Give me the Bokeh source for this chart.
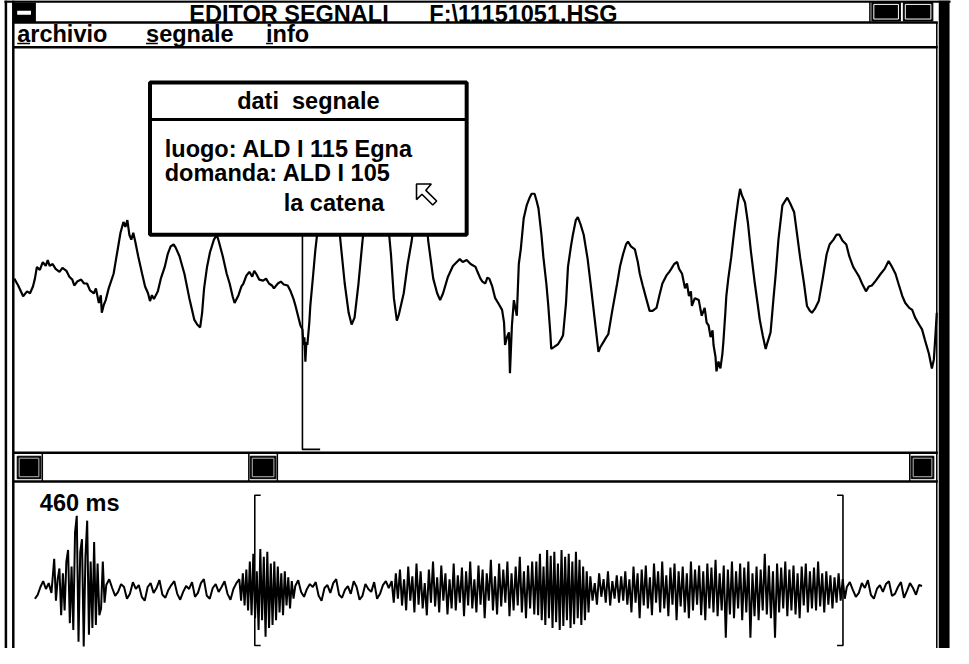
import numpy as np
from bokeh.plotting import figure
from bokeh.models import Range1d
from bokeh.core.properties import value
from bokeh.embed import file_html
from bokeh.resources import INLINE

# ------------------------------------------------------------------ data
window_title = "EDITOR SEGNALI"
file_name = "F:\\11151051.HSG"
menu_items = ["archivio", "segnale", "info"]
dialog_title = "dati\u00a0 segnale"
dialog_lines = ["luogo: ALD I 115 Egna", "domanda: ALD I 105", "la catena"]
duration_label = "460 ms"
total_ms = 460
selection_ms = [114, 419]
cursor_sample = [293]

# upper (zoomed) trace: sample index and amplitude
upper_t = [0, 4, 9, 13, 16, 19, 21, 23, 26, 29, 32, 34, 36, 39, 42, 46, 49, 53, 56, 59,
           61, 64, 68, 71, 74, 77, 81, 83, 86, 88, 89, 91, 93, 96, 101, 104, 106, 108, 111, 113,
           115, 117, 119, 121, 123, 126, 130, 133, 136, 138, 140, 142, 146, 149, 153, 156, 159, 162, 164, 168,
           173, 178, 183, 186, 189, 191, 193, 196, 199, 203, 206, 208, 212, 216, 219, 222, 224, 228, 231, 233,
           236, 239, 242, 244, 246, 249, 253, 256, 259, 262, 264, 268, 271, 274, 278, 281, 284, 286, 289, 291,
           293, 294, 295, 296, 297, 298, 300, 301, 304, 306, 309, 312, 316, 321, 326, 331, 336, 340, 343, 346,
           350, 354, 358, 364, 371, 378, 383, 386, 389, 391, 396, 400, 404, 408, 414, 419, 421, 426, 430, 433,
           436, 441, 446, 450, 453, 456, 460, 464, 469, 471, 474, 476, 479, 481, 483, 486, 489, 492, 496, 498,
           499, 501, 503, 504, 506, 508, 510, 511, 513, 515, 518, 521, 524, 526, 529, 531, 533, 536, 538, 541,
           543, 545, 546, 549, 553, 556, 558, 561, 563, 566, 568, 571, 573, 576, 579, 583, 586, 590, 594, 596,
           599, 602, 604, 608, 613, 616, 619, 622, 624, 627, 631, 634, 636, 639, 643, 646, 649, 653, 656, 659,
           663, 666, 668, 671, 674, 676, 679, 682, 684, 686, 688, 689, 692, 696, 698, 699, 702, 704, 706, 708,
           710, 711, 713, 714, 716, 718, 720, 721, 723, 724, 726, 729, 731, 733, 736, 738, 740, 743, 746, 749,
           753, 756, 758, 761, 764, 766, 769, 772, 774, 777, 781, 784, 786, 789, 793, 796, 799, 803, 806, 809,
           811, 814, 818, 822, 826, 829, 833, 836, 839, 842, 846, 849, 853, 856, 859, 862, 866, 869, 872, 876,
           881, 885, 889, 892, 896, 899, 903, 906, 910, 913, 916, 920, 923, 926, 930, 933, 935, 936, 938]
upper_amp = [5, -2, -13, -8, -10, -3, 5, 17, 14, 22, 18, 24, 18, 20, 15, 12, 16, 13, 7, 4,
             -2, 2, 4, 0, 0, -7, -10, -5, -20, -12, -30, -22, -17, -5, 10, 28, 40, 52, 63, 58,
             65, 50, 45, 52, 43, 28, 10, -3, -10, -18, -12, -16, -8, 5, 17, 30, 38, 40, 37, 28,
             10, -15, -37, -42, -45, -30, -5, 17, 32, 45, 50, 43, 28, 10, 0, -13, -20, -12, -3, 0,
             8, 12, 7, 13, 10, 4, 3, 5, 0, -2, -5, 0, 2, -1, -2, -8, -16, -23, -35, -43,
             -47, -63, -55, -80, -60, -63, -40, -23, 10, 33, 60, 85, 100, 105, 95, 50, 0, -30, -42, -35,
             0, 43, 80, 100, 105, 85, 30, -15, -38, -32, -10, 20, 43, 75, 95, 65, 43, 5, -10, -17,
             -10, 7, 18, 22, 25, 22, 24, 20, 17, 12, 5, 2, 0, 6, 5, -3, -15, -20, -27, -40,
             -63, -55, -50, -92, -43, -17, -28, -33, 20, 35, 67, 80, 88, 92, 92, 85, 77, 50, 27, 0,
             -23, -50, -67, -65, -62, -57, -53, -20, 17, 38, 50, 65, 68, 60, 50, 25, 0, -35, -70, -65,
             -60, -55, -52, -28, 0, 18, 30, 40, 43, 38, 35, 22, 10, -2, -17, -28, -28, -25, -12, 0,
             8, 12, 15, 20, 22, 15, 10, -5, 0, -13, -8, -23, -15, -17, -28, -33, -25, -40, -43, -55,
             -48, -63, -75, -90, -80, -87, -72, -60, -30, -13, 5, 27, 45, 62, 85, 97, 90, 83, 62, 33,
             0, -22, -37, -53, -67, -60, -50, -15, 7, 45, 80, 85, 88, 82, 73, 50, 27, 0, -23, -28,
             -30, -26, -18, 5, 30, 40, 45, 50, 50, 44, 40, 28, 17, 12, 7, 0, -8, -3, -2, 3,
             10, 15, 23, 18, 10, 0, -13, -20, -25, -27, -35, -42, -47, -58, -72, -87, -78, -63, -30]

# lower (overview) trace: segment boundaries in ms and amplitude samples per segment
lower_bounds_ms = [0, 10, 37, 106, 135, 185, 260, 288, 304, 421, 460]
lower_quiet_start = [-8, -4, 4, 10, 2, 8, -2]
lower_burst_1 = [33, -10, 12, 23, -25, 18, -20, 30, 42, -33, 25, -40, 60, 77, -52,
                 40, 53, -57, 35, 72, -45, 30, -38, 50, -35, 28, -25, -18, 30, -12]
lower_quiet_1 = [6, 12, 3, -5, -1, 7, 4, -8, -3, 9, 2, 6, -6, -10, 4, 8, -2, 3, 11, -4, -7, 1,
                 6, 10, -3, -9, -1, 5, 2, 9, -6, -2, 8, 12, -5, -8, 3, 7, -1, 4, 10, -3, -9, 2, 8]
lower_burst_2 = [12, -10, 18, -15, 22, -20, 30, -25, 38, -28, 20, -40, 43, -30, 35, -47,
                 40, -38, 28, -35, 30, -30, 25, -22, 18, -25, 20, -15, 14, -18, 10, -8]
lower_quiet_2 = [5, 11, -1, -6, 2, 7, 4, 9, -5, -10, 3, 6, -2, 8, 12, -4, -7, 1, 5, -3, 10, 4,
                 -9, -5, 7, 2, -1, 9, -8, -3, 6, 10, 3]
lower_medium_1 = [10, -12, 18, -8, 22, -15, 12, -20, 25, -10, 15, -22, 28, -14, 20, -18, 8, -25,
                  22, -12, 30, -16, 14, -22, 26, -10, 18, -24, 12, -18, 28, -20, 16, -12, 24, -26,
                  20, -15, 30, -18, 12, -22, 26, -14, 22, -28, 18, -10, 32, -20, 15, -24, 28, -16,
                  22, -12, 30, -26, 18, -20, 25, -15, 35, -22, 20, -28, 26, -18, 30, -24]
lower_burst_3 = [30, -25, 38, -30, 25, -35, 42, -28, 36, -38, 40, -32, 28, -40, 42, -36, 35, -30,
                 38, -38, 30, -34, 40, -28, 32, -35, 25, -30, 20, -22]
lower_medium_2 = [15, -10, 8, -14, 18, -6, 12, -12, 20, -15, 10, -8, 16, -12]
lower_medium_3 = [15, -10, 20, -14, 12, -22, 25, -12, 18, -28,
                  22, -15, 26, -18, 14, -25, 28, -12, 20, -22,
                  30, -18, 16, -26, 24, -14, 28, -30, 20, -16,
                  25, -22, 18, -28, 30, -20, 22, -14, 26, -25,
                  20, -30, 28, -18, 24, -22, 32, -26, 18, -20,
                  26, -48, 22, -24, 30, -28, 20, -18, 28, -30,
                  24, -22, 30, -48, 18, -26, 25, -30, 22, -20,
                  38, -24, 26, -28, 20, -48, 28, -22, 24, -18,
                  30, -26, 22, -20, 26, -24, 18, -28, 25, -15,
                  28, -22, 20, -18, 24, -20, 30, -16, 18, -22,
                  20, -14, 16, -18, 14, -12, 18, -10, 12, -8]
lower_quiet_end = [4, 9, 1, -6, -2, 8, 3, 11, -4, -8, 2, 6, -1, 7, 10, -5, -3, 4, 9, -7, 0, 8,
                   3, -4, 6, 5]
lower_segments = [lower_quiet_start, lower_burst_1, lower_quiet_1, lower_burst_2, lower_quiet_2,
                  lower_medium_1, lower_burst_3, lower_medium_2, lower_medium_3, lower_quiet_end]

# ------------------------------------------------------------------ figure
W, H = 969, 664
FONT = value("Liberation Sans")
FS = "23.5px"
TXT = dict(text_font=FONT, text_font_size=FS, text_font_style="bold", text_color="black",
           text_baseline="alphabetic")
DY = -7  # baseline correction for svg text

p = figure(width=953, height=648, x_range=Range1d(0, W), y_range=Range1d(H, 0),
           output_backend="svg", toolbar_location=None,
           x_axis_location=None, y_axis_location=None)
p.min_border_left = p.min_border_right = p.min_border_top = p.min_border_bottom = 0
p.grid.visible = False
p.outline_line_color = None
p.background_fill_color = "white"
p.border_fill_color = "white"

UP_X0, UP_Y0 = 14, 290
LO_X0, LO_X1, LO_Y0 = 35, 937, 605
px_per_ms = (LO_X1 - LO_X0) / total_ms
p.extra_x_ranges = {"up_t": Range1d(-UP_X0, W - UP_X0),
                    "lo_t": Range1d(-LO_X0 / px_per_ms, (W - LO_X0) / px_per_ms)}
p.extra_y_ranges = {"up_a": Range1d(UP_Y0 - H, UP_Y0),
                    "lo_a": Range1d(LO_Y0 - H, LO_Y0)}

# ------------------------------------------------------------------ traces
p.line(upper_t, upper_amp, x_range_name="up_t", y_range_name="up_a",
       line_color="black", line_width=2.2)
c = cursor_sample[0]
p.line([c, c, c + 18], [60, -170, -170], x_range_name="up_t", y_range_name="up_a",
       line_color="black", line_width=1.6)

lower_ms, lower_amp = [], []
nseg = len(lower_segments)
for i, seg in enumerate(lower_segments):
    last = i == nseg - 1
    lower_ms.extend(np.linspace(lower_bounds_ms[i], lower_bounds_ms[i + 1], len(seg),
                                endpoint=last).tolist())
    lower_amp.extend(seg)
p.line(lower_ms, lower_amp, x_range_name="lo_t", y_range_name="lo_a",
       line_color="black", line_width=2.0)

tick = 6 / px_per_ms
bx = [[selection_ms[0] + tick, selection_ms[0], selection_ms[0], selection_ms[0] + tick],
      [selection_ms[1] - tick, selection_ms[1], selection_ms[1], selection_ms[1] - tick]]
by = [[98, 98, -56, -56], [98, 98, -56, -56]]
p.multi_line(bx, by, x_range_name="lo_t", y_range_name="lo_a", line_color="black", line_width=1.6)

# ------------------------------------------------------------------ dialog
p.quad(left=[152], right=[474], top=[84], bottom=[240], fill_color="white",
       line_color="black", line_width=4)
p.line([152, 474], [122, 122], line_color="black", line_width=3)
p.text(x=[313], y=[110 + DY], text=[dialog_title], text_align="center", **TXT)
p.text(x=[167, 167, 288], y=[159 + DY, 184 + DY, 214 + DY], text=dialog_lines,
       text_align="left", **TXT)
p.patch([423, 423, 428.5, 439.5, 443.5, 432.5, 438],
        [188, 204, 198.5, 209.5, 205.5, 194.5, 188],
        fill_color="white", line_color="black", line_width=1.6)

# ------------------------------------------------------------------ window chrome
p.text(x=[192, 436], y=[21 + DY, 21 + DY], text=[window_title, file_name], text_align="left", **TXT)
p.quad(left=[13], right=[36], top=[2], bottom=[22], fill_color="black", line_color=None)
p.quad(left=[17], right=[31], top=[10.5], bottom=[14.5], fill_color="white", line_color=None)
p.quad(left=[886, 918], right=[915, 948], top=[2, 2], bottom=[21, 21],
       fill_color="black", line_color="black", line_width=1)
p.quad(left=[888, 920], right=[913, 946], top=[4, 4], bottom=[19, 19],
       fill_color=None, line_color="white", line_width=1)
p.line([884, 884], [1, 22], line_color="black", line_width=1.5)

p.text(x=[17, 148, 270], y=[41 + DY, 41 + DY, 41 + DY], text=menu_items, text_align="left", **TXT)
p.multi_line([[17, 30], [148, 160], [270, 277]], [[44, 44], [44, 44], [44, 44]],
             line_color="black", line_width=1.5)

hx = [[4, 966], [13, 953], [13, 953], [13, 953], [13, 953]]
hy = [[1, 1], [22.5, 22.5], [48, 48], [463.5, 463.5], [493, 493]]
p.multi_line(hx, hy, line_color="black", line_width=2.5)
p.multi_line([[5.5, 5.5], [13, 13]], [[0, H], [0, H]], line_color="black", line_width=2.5)
p.line([952, 952], [22, H], line_color="black", line_width=1.5)
p.quad(left=[954], right=[965], top=[0], bottom=[H], fill_color="black", line_color=None)

p.quad(left=[17, 254, 926], right=[41, 280, 949], top=[467, 467, 467], bottom=[490, 490, 490],
       fill_color="black", line_color="black", line_width=1)
p.quad(left=[19, 256, 928], right=[39, 278, 947], top=[469, 469, 469], bottom=[488, 488, 488],
       fill_color=None, line_color="#bbbbbb", line_width=1)
p.multi_line([[42.5, 42.5], [252.5, 252.5], [281.5, 281.5], [924.5, 924.5]],
             [[464, 493], [464, 493], [464, 493], [464, 493]], line_color="black", line_width=1.5)

p.text(x=[40], y=[522 + DY], text=[duration_label], text_align="left", **TXT)

open("out.html", "w").write(file_html(p, INLINE))
